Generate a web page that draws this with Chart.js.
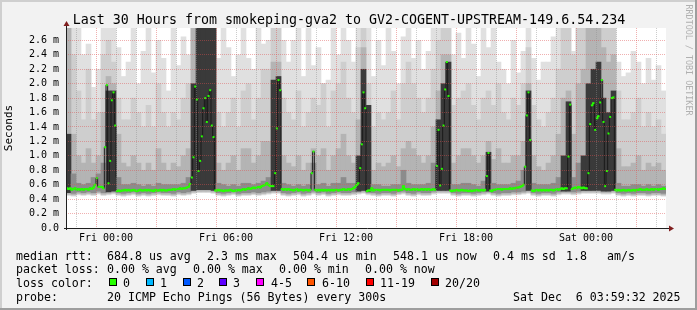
<!DOCTYPE html>
<html><head><meta charset="utf-8">
<script src="https://cdn.jsdelivr.net/npm/chart.js@4.4.0/dist/chart.umd.min.js"></script>
<style>html,body{margin:0;padding:0;background:#f2f2f2;}canvas{display:block}</style>
</head><body>
<canvas id="c" width="697" height="310"></canvas>
<script>
// ---------- DATA (hours counted from Thu 22:00; 30 hours shown) ----------
const titleText = "Last 30 Hours from smokeping-gva2 to GV2-COGENT-UPSTREAM-149.6.54.234";
const xTickHours = [2, 8, 14, 20, 26];
const xTickLabels = ["Fri 00:00", "Fri 06:00", "Fri 12:00", "Fri 18:00", "Sat 00:00"];
const yAxisTitle = "Seconds";
const yUnit = " m";

// median RTT in ms, one value per 5 minutes (12 per hour)
const medianRtt = [
0.55,0.54,0.55,0.53,0.54,0.55,0.53,0.54,0.53,0.54,0.53,0.54,
0.54,0.53,0.55,0.54,0.56,0.60,0.69,0.57,0.57,0.57,0.55,1.12,
1.98,0.62,0.93,1.77,1.88,1.42,0.51,0.52,0.51,0.52,0.52,0.53,
0.52,0.53,0.52,0.52,0.53,0.52,0.51,0.52,0.53,0.52,0.52,0.53,
0.52,0.53,0.52,0.52,0.51,0.53,0.52,0.52,0.53,0.52,0.53,0.52,
0.52,0.53,0.53,0.53,0.54,0.53,0.54,0.54,0.55,0.54,0.55,0.55,
0.56,0.57,0.61,0.70,0.98,1.96,1.78,0.79,0.93,1.27,1.66,1.80,
1.47,1.83,1.91,1.42,1.26,0.52,0.52,0.53,0.52,0.52,0.51,0.52,
0.52,0.52,0.53,0.52,0.51,0.52,0.52,0.53,0.52,0.53,0.54,0.53,
0.54,0.55,0.54,0.55,0.56,0.55,0.56,0.57,0.56,0.58,0.59,0.60,
0.62,0.60,0.58,0.58,0.58,0.76,1.38,2.05,1.91,0.54,0.53,0.54,
0.53,0.54,0.53,0.53,0.52,0.53,0.54,0.52,0.53,0.53,0.52,0.53,
0.53,0.52,0.53,0.76,1.06,0.53,0.52,0.53,0.52,0.53,0.52,0.53,
0.52,0.53,0.52,0.53,0.52,0.53,0.53,0.52,0.53,0.53,0.54,0.53,
0.53,0.54,0.53,0.54,0.55,0.57,0.60,0.62,0.83,1.16,1.88,1.66,
0.51,0.52,0.52,0.55,0.52,0.53,0.53,0.53,0.52,0.53,0.53,0.53,
0.53,0.53,0.52,0.53,0.53,0.53,0.53,0.52,0.53,0.53,0.58,0.54,
0.53,0.54,0.53,0.53,0.54,0.53,0.54,0.53,0.53,0.54,0.53,0.54,
0.53,0.54,0.53,0.53,0.54,0.53,0.86,1.36,0.59,0.82,1.42,1.92,
2.30,1.83,0.52,0.51,0.52,0.52,0.53,0.52,0.52,0.53,0.52,0.52,
0.52,0.51,0.52,0.51,0.52,0.52,0.53,0.52,0.52,0.53,0.52,0.53,
0.72,1.04,0.52,0.51,0.53,0.53,0.54,0.54,0.54,0.53,0.54,0.54,
0.54,0.54,0.55,0.54,0.55,0.55,0.56,0.56,0.57,0.58,0.60,0.85,
1.56,1.88,1.22,0.52,0.51,0.52,0.53,0.52,0.53,0.52,0.53,0.52,
0.53,0.52,0.53,0.53,0.52,0.53,0.54,0.53,0.54,0.55,0.54,0.55,
0.55,0.99,1.71,0.54,0.55,0.56,0.55,0.57,0.56,0.55,0.56,0.55,
0.55,0.76,1.44,1.70,1.73,1.36,1.52,1.55,1.74,2.05,1.47,0.58,
0.79,1.31,1.54,1.80,1.81,0.53,0.52,0.53,0.52,0.52,0.53,0.52,
0.52,0.53,0.52,0.52,0.53,0.52,0.53,0.53,0.54,0.53,0.53,0.53,
0.54,0.53,0.53,0.54,0.53,0.54,0.54,0.53,0.54,0.54,0.55,0.54
];

// smoke, one value per 15 minutes (4 per hour), in ms
const smokeLow = [
0.45,0.44,0.46,0.45, 0.46,0.45,0.47,0.45, 0.46,0.47,0.45,0.44, 0.45,0.46,0.44,0.45, 0.44,0.45,0.46,0.45,
0.45,0.44,0.46,0.45, 0.46,0.48,0.49,0.49, 0.49,0.48,0.45,0.44, 0.45,0.46,0.44,0.45, 0.45,0.46,0.45,0.46,
0.47,0.48,0.48,0.45, 0.44,0.45,0.46,0.44, 0.45,0.47,0.45,0.46, 0.44,0.45,0.46,0.45, 0.45,0.46,0.47,0.48,
0.46,0.45,0.44,0.45, 0.45,0.44,0.46,0.47, 0.45,0.44,0.46,0.45, 0.45,0.47,0.48,0.48, 0.48,0.45,0.44,0.45,
0.45,0.44,0.45,0.46, 0.47,0.45,0.44,0.45, 0.45,0.46,0.46,0.47, 0.48,0.45,0.44,0.45, 0.45,0.44,0.46,0.47,
0.47,0.46,0.47,0.48, 0.48,0.48,0.48,0.47, 0.47,0.48,0.45,0.44, 0.45,0.44,0.45,0.45, 0.44,0.45,0.45,0.44
];
const smokeMax = [
2.77,2.77,2.77,2.40, 2.55,1.95,2.20,2.77, 2.77,2.77,2.50,2.10, 2.30,2.77,2.00,2.45, 2.77,2.15,2.60,2.35,
1.90,2.77,2.25,2.65, 2.40,2.77,2.77,2.77, 2.77,2.77,2.35,2.77, 2.50,2.10,2.40,2.77, 2.35,2.20,2.77,2.55,
2.60,2.77,2.77,2.60, 2.30,2.60,2.77,2.10, 2.77,2.25,2.50,2.00, 2.05,2.77,2.40,2.77, 2.60,2.30,2.77,2.77,
2.77,2.10,2.60,2.25, 2.77,2.45,2.00,2.65, 2.77,2.35,2.60,2.20, 2.45,2.77,2.77,2.77, 2.77,2.40,2.70,2.35,
2.77,2.55,2.10,2.77, 2.50,2.77,2.30,2.20, 2.00,2.60,2.15,2.45, 2.77,2.35,2.05,2.30, 2.30,2.65,2.77,2.77,
2.77,2.45,2.77,2.77, 2.77,2.77,2.77,2.77, 2.77,2.60,2.30,2.10, 2.15,2.45,2.30,2.00, 2.35,2.05,2.25,1.90
];
const smokeP80 = [
2.77,2.40,1.90,1.50, 2.20,1.50,1.60,2.40, 2.60,2.30,1.80,1.50, 1.50,1.80,1.60,1.40, 1.70,1.40,2.00,1.60,
1.40,1.60,1.50,1.80, 2.00,2.77,2.77,2.77, 2.77,2.77,1.60,1.40, 1.60,1.80,1.40,1.90, 2.00,1.50,1.80,2.20,
2.20,2.77,2.77,1.80, 1.60,1.50,1.90,1.40, 1.60,1.80,1.70,2.00, 1.40,1.90,2.00,2.30, 1.80,1.60,2.50,2.77,
2.00,1.40,1.60,1.50, 1.60,1.90,1.50,2.00, 2.30,2.00,1.80,1.60, 1.80,2.20,2.60,2.77, 2.77,1.70,1.80,1.90,
2.00,1.70,1.50,1.80, 1.90,1.70,2.00,1.60, 1.50,1.80,1.70,2.00, 2.50,1.70,1.50,1.40, 1.60,1.80,2.20,2.77,
2.77,2.40,2.77,2.77, 2.77,2.77,2.77,2.77, 2.77,2.77,1.90,1.50, 1.50,1.60,1.80,1.40, 1.60,1.40,1.50,1.30
];
const smokeP60 = [
2.77,1.30,1.00,0.90, 1.10,0.90,1.00,1.60, 2.10,2.00,1.30,0.90, 0.85,1.00,0.90,0.80, 0.90,0.80,1.10,0.90,
0.80,0.90,0.85,1.00, 1.10,2.77,2.77,2.77, 2.77,2.77,0.90,0.80, 0.90,1.00,0.80,1.10, 1.10,0.90,1.00,1.20,
1.20,2.30,2.30,1.00, 0.90,0.85,1.00,0.80, 0.90,1.10,1.00,1.10, 0.80,1.00,1.10,1.30, 1.00,0.90,1.50,2.50,
1.20,0.80,0.90,0.85, 0.90,1.00,0.85,1.10, 1.20,1.10,1.00,0.90, 1.00,1.40,1.90,2.40, 2.40,0.90,1.00,1.10,
1.10,1.00,0.90,1.00, 1.20,0.95,1.10,0.90, 0.90,1.00,1.00,1.20, 2.00,1.00,0.85,0.80, 0.90,1.00,1.30,1.80,
1.90,1.30,2.00,2.20, 2.77,2.77,2.77,2.50, 2.30,2.40,1.10,0.85, 0.85,0.90,1.00,0.80, 0.90,0.85,0.90,0.80
];
const smokeDark = [
1.30,0.75,0.62,0.60, 0.62,0.70,0.75,0.90, 1.90,1.90,0.70,0.60, 0.60,0.62,0.60,0.58, 0.60,0.58,0.62,0.60,
0.60,0.60,0.60,0.62, 0.70,2.00,2.77,2.77, 2.77,2.77,0.62,0.60, 0.58,0.60,0.58,0.62, 0.62,0.60,0.62,0.65,
0.70,2.05,2.10,0.62, 0.60,0.58,0.60,0.58, 0.60,0.90,0.60,0.62, 0.58,0.62,0.62,0.70, 0.62,0.62,1.00,2.20,
1.70,0.60,0.60,0.58, 0.58,0.60,0.60,0.80, 0.62,0.60,0.60,0.60, 0.62,0.90,1.50,2.00, 2.30,0.60,0.60,0.62,
0.62,0.60,0.58,0.65, 1.05,0.62,0.60,0.60, 0.60,0.62,0.65,0.80, 1.90,0.62,0.60,0.60, 0.60,0.62,0.70,1.00,
1.75,0.70,0.90,1.00, 2.00,2.20,2.30,1.80, 1.60,1.90,0.62,0.58, 0.58,0.60,0.60,0.58, 0.60,0.58,0.60,0.58
];

const legendRows = [
  [[16,"median rtt:"],[107,"684.8 us avg"],[207,"2.3 ms max"],[293,"504.4 us min"],[393,"548.1 us now"],[493,"0.4 ms sd"],[566,"1.8"],[607,"am/s"]],
  [[16,"packet loss:"],[107,"0.00 % avg"],[193,"0.00 % max"],[279,"0.00 % min"],[365,"0.00 % now"]],
  [[16,"loss color:"]],
  [[16,"probe:"],[107,"20 ICMP Echo Pings (56 Bytes) every 300s"],[513,"Sat Dec  6 03:59:32 2025"]]
];
const lossLabels = ["0","1","2","3","4-5","6-10","11-19","20/20"];
const lossColors = ["#26ff00","#00b8ff","#0059ff","#5e00ff","#ff00ff","#ff5500","#ff0000","#a10000"];
const lossBoxX = [109,146,183,219,256,307,366,431];
const lossTextX = [123,160,197,233,271,322,380,445];
const watermark = "RRDTOOL / TOBI OETIKER";

// ---------- build datasets ----------
const sx = i => (i + 0.5) * 0.25;
const mx = k => (k + 0.5) / 12;
const band = (tops, off) => tops.map((t, i) => ({x: sx(i), y: [smokeLow[i] + off, t]}));
const medPts = medianRtt.map((v, k) => ({x: mx(k), y: v}));
const GREEN = lossColors[0];
const MGRID = 'rgba(222,79,79,0.45)', GRID = 'rgba(143,143,143,0.45)';

const MONO = '"DejaVu Sans Mono", monospace';
const W = 697, H = 310;

const frame = {
  id: 'frame',
  beforeDraw(chart) {
    const c = chart.ctx, a = chart.chartArea;
    c.save();
    c.fillStyle = '#f2f2f2'; c.fillRect(0, 0, W, H);
    c.fillStyle = '#cfcfcf'; c.fillRect(0, 0, W, 2); c.fillRect(0, 0, 2, H);
    c.fillStyle = '#9e9e9e'; c.fillRect(0, H - 2, W, 2); c.fillRect(W - 2, 0, 2, H);
    c.fillStyle = '#ffffff'; c.fillRect(a.left, a.top, a.right - a.left, a.bottom - a.top);
    c.restore();
  },
  afterDraw(chart) {
    const c = chart.ctx, a = chart.chartArea;
    c.save();
    c.strokeStyle = '#1f1f1f'; c.lineWidth = 1;
    c.beginPath();
    c.moveTo(a.left - 2, a.bottom + 0.5); c.lineTo(a.right + 5, a.bottom + 0.5);
    c.moveTo(a.left + 0.5, a.bottom + 2); c.lineTo(a.left + 0.5, a.top - 3);
    c.stroke();
    c.fillStyle = '#801f1f';
    c.beginPath(); c.moveTo(a.right + 3, a.bottom - 2.5); c.lineTo(a.right + 8, a.bottom + 0.5); c.lineTo(a.right + 3, a.bottom + 3.5); c.closePath(); c.fill();
    c.beginPath(); c.moveTo(a.left - 2.5, a.top - 2); c.lineTo(a.left + 0.5, a.top - 7); c.lineTo(a.left + 3.5, a.top - 2); c.closePath(); c.fill();
    c.fillStyle = '#000';
    c.font = '13.3px ' + MONO; c.textAlign = 'center'; c.textBaseline = 'alphabetic';
    c.fillText(titleText, 349, 24);
    c.font = '11.6px ' + MONO; c.textAlign = 'left';
    const ys = [259.5, 273, 287, 300.5];
    legendRows.forEach((row, r) => row.forEach(([x, t]) => c.fillText(t, x, ys[r])));
    lossLabels.forEach((lab, i) => {
      c.fillStyle = lossColors[i]; c.fillRect(lossBoxX[i], 278, 8, 8);
      c.strokeStyle = '#000'; c.strokeRect(lossBoxX[i] + 0.5, 278.5, 7, 7);
      c.fillStyle = '#000'; c.fillText(lab, lossTextX[i], ys[2]);
    });
    c.translate(688, 60); c.rotate(Math.PI / 2);
    c.font = '8.4px ' + MONO; c.fillStyle = '#b0b0b0'; c.textAlign = 'center'; c.textBaseline = 'middle';
    c.fillText(watermark, 0, 0);
    c.restore();
  }
};

const barDs = (data, color, order) => ({type: 'bar', data, backgroundColor: color, borderWidth: 0,
  grouped: false, barPercentage: 1, categoryPercentage: 1, order});

new Chart(document.getElementById('c'), {
  type: 'bar',
  data: {
    datasets: [
      {type: 'line', data: medPts, borderColor: GREEN, borderWidth: 1.5, stepped: 'middle',
       pointStyle: 'line', pointRadius: 1, pointBorderWidth: 2, pointBorderColor: GREEN, pointBackgroundColor: GREEN,
       segment: {borderColor: ctx => Math.abs(ctx.p0.parsed.y - ctx.p1.parsed.y) > 0.06 ? 'rgba(0,0,0,0)' : GREEN},
       order: 0},
      {type: 'line', data: medPts, borderColor: '#1a1a1a', borderWidth: 1, stepped: 'middle', pointRadius: 0, order: 1},
      barDs(band(smokeDark, 0.04), ctx => (ctx.raw && ctx.raw.y[1] > 0.95) ? '#3a3a3a' : '#8c8c8c', 2),
      barDs(band(smokeP60, 0.02), '#b4b4b4', 3),
      barDs(band(smokeP80, 0.01), '#cecece', 4),
      barDs(band(smokeMax, 0), '#e0e0e0', 5)
    ]
  },
  options: {
    responsive: false, animation: false, events: [], devicePixelRatio: 1,
    layout: {padding: {left: 0, top: 28, right: 31, bottom: 62}},
    plugins: {legend: {display: false}, tooltip: {enabled: false}},
    scales: {
      x: {
        type: 'linear', min: 0, max: 30, offset: false,
        afterFit: s => { s.height = 20; },
        ticks: {stepSize: 1, autoSkip: false, maxRotation: 0, padding: 4, color: '#000',
          font: {family: MONO, size: 10},
          callback: v => { const i = xTickHours.indexOf(v); return i >= 0 ? xTickLabels[i] : ''; }},
        grid: {z: 1, drawTicks: false, lineWidth: 1,
          color: ctx => (ctx.tick && (ctx.tick.value - 2) % 3 === 0) ? MGRID : GRID},
        border: {display: false, dash: [1, 1]}
      },
      y: {
        type: 'linear', min: 0, max: 2.772,
        afterFit: s => { s.width = 66; },
        title: {display: true, text: yAxisTitle, color: '#000', font: {family: MONO, size: 11}, padding: {top: 3, bottom: 0}},
        ticks: {stepSize: 0.1, includeBounds: false, padding: 7, color: '#000', font: {family: MONO, size: 10},
          callback: v => { const n = Math.round(v * 10); if (n % 2) return ''; return n === 0 ? '0.0' : (n / 10).toFixed(1) + yUnit; }},
        grid: {z: 1, drawTicks: false, lineWidth: 1,
          color: ctx => (ctx.tick && Math.round(ctx.tick.value * 10) % 2 === 0) ? MGRID : GRID},
        border: {display: false, dash: [1, 1]}
      }
    }
  },
  plugins: [frame]
});
</script>
</body></html>
